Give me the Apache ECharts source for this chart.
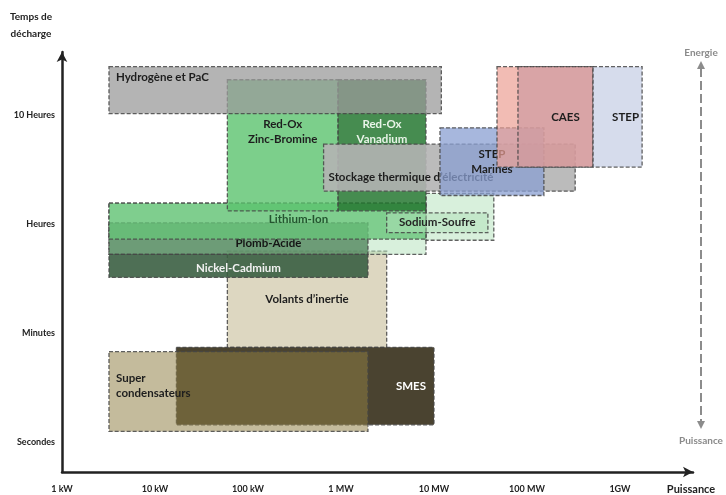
<!DOCTYPE html>
<html><head><meta charset="utf-8">
<script src="https://cdn.jsdelivr.net/npm/echarts@6/dist/echarts.min.js"></script>
<style>html,body{margin:0;padding:0;background:#fff}#c{width:726px;height:495px}</style>
</head><body><div id="c"></div>
<script>
// Axis tick labels
const xTickLabels = ['1 kW', '10 kW', '100 kW', '1 MW', '10 MW', '100 MW', '1GW'];
const yTickLabels = ['Secondes', 'Minutes', 'Heures', '10 Heures'];

// Technologies, in drawing order
const techNames = ['Volants', 'SMES', 'SuperCond', 'LiIonRange', 'SodiumRange', 'Plomb', 'Nickel', 'LiIon',
  'Sodium', 'Zinc', 'Vanadium', 'Hydrogene', 'Thermique', 'StepMarines', 'CaesRange', 'Caes', 'Step'];
const techLabels = ['Volants d\u2019inertie', 'SMES', 'Super\ncondensateurs', '', '', 'Plomb-Acide', 'Nickel-Cadmium',
  'Lithium-Ion', 'Sodium-Soufre', 'Red-Ox\nZinc-Bromine', 'Red-Ox\nVanadium', 'Hydrog\u00e8ne et PaC',
  'Stockage thermique d\u2019\u00e9lectricit\u00e9', 'STEP\nMarines', '', 'CAES', 'STEP'];
// Power range (kW)
const powerMin = [60, 17, 3.2, 3.2, 8200, 3.2, 3.2, 3.2, 3100, 60, 930, 3.2, 650, 11600, 47600, 80000, 513000];
const powerMax = [3100, 10000, 1950, 8200, 44000, 1950, 1950, 8200, 38000, 930, 8200, 12000, 330000, 152000, 513000, 513000, 1730000];
// Discharge time (0 = secondes, 1 = minutes, 2 = heures, 3 = 10 heures)
const timeMin = [0.87, 0.16, 0.10, 1.72, 1.85, 1.72, 1.51, 1.86, 1.92, 2.12, 2.12, 3.01, 2.30, 2.26, 2.52, 2.52, 2.52];
const timeMax = [1.75, 0.87, 0.83, 2.19, 2.28, 2.01, 1.72, 2.19, 2.10, 3.32, 3.32, 3.44, 2.73, 2.88, 3.44, 3.44, 3.44];

// Styles (not data)
const FONT = 'Lato, "Open Sans", sans-serif';
const styles = {
  Volants:     {fill: 'rgba(217,211,186,0.9)', text: '#1e1e1e', pos: 'center', dx: 0, dy: 0},
  SMES:        {fill: 'rgba(64,57,37,0.95)', text: '#ffffff', pos: 'right', dx: 8, dy: 0},
  SuperCond:   {fill: 'rgba(143,126,68,0.53)', text: '#1e1e1e', pos: 'left', dx: 7, dy: -6},
  LiIonRange:  {fill: 'rgba(177,225,185,0.5)'},
  SodiumRange: {fill: 'rgba(177,225,185,0.5)'},
  Plomb:       {fill: 'rgba(91,141,101,0.85)', text: '#151515', pos: 'center', dx: 30, dy: 5},
  Nickel:      {fill: 'rgba(59,95,66,0.9)', text: '#f2f2f2', pos: 'center', dx: 0, dy: 2},
  LiIon:       {fill: 'rgba(102,196,120,0.78)', text: '#24552f', pos: 'center', dx: 31, dy: -2},
  Sodium:      {fill: 'rgba(178,226,186,0.5)', text: '#262626', pos: 'center', dx: 0, dy: 0},
  Zinc:        {fill: 'rgba(91,195,110,0.8)', text: '#1e1e1e', pos: 'center', dx: 0, dy: -13},
  Vanadium:    {fill: 'rgba(38,120,49,0.85)', text: '#e8f4e8', pos: 'center', dx: 0, dy: -13},
  Hydrogene:   {fill: 'rgba(155,155,155,0.75)', text: '#1e1e1e', pos: 'left', dx: 7, dy: -13},
  Thermique:   {fill: 'rgba(180,180,180,0.9)', text: '#1e1e1e', pos: 'left', dx: 5, dy: 10},
  StepMarines: {fill: 'rgba(137,159,209,0.75)', text: '#1e1e1e', pos: 'center', dx: 0, dy: 0},
  CaesRange:   {fill: 'rgba(236,159,148,0.7)'},
  Caes:        {fill: 'rgba(206,154,160,0.7)', text: '#1e1e1e', pos: 'center', dx: 10, dy: 0},
  Step:        {fill: 'rgba(204,211,231,0.8)', text: '#1e1e1e', pos: 'center', dx: 8, dy: 0}
};

const seriesData = techNames.map((n, i) => [powerMin[i], powerMax[i], timeMin[i], timeMax[i]]);

const chart = echarts.init(document.getElementById('c'));
const axisColor = '#222';
chart.setOption({
  animation: false,
  grid: {left: 62, right: 33, top: 52, bottom: 23},
  xAxis: {
    type: 'log', logBase: 10, min: 1, max: 6.1e6,
    name: 'Puissance', nameLocation: 'end', nameGap: -2,
    nameTextStyle: {fontFamily: FONT, fontWeight: 'bold', fontSize: 11, color: axisColor,
      align: 'center', verticalAlign: 'top', padding: [12, 0, 0, 0]},
    axisLine: {show: true, onZero: false, lineStyle: {color: axisColor, width: 2.5},
      symbol: ['none', 'arrow'], symbolSize: [8, 10]},
    axisTick: {show: false}, splitLine: {show: false}, minorTick: {show: false},
    axisLabel: {
      margin: 13, fontFamily: FONT, fontSize: 9, fontWeight: 'bold', color: axisColor,
      showMaxLabel: false,
      formatter: v => {
        const l = Math.log10(v), k = Math.round(l);
        return (Math.abs(l - k) < 1e-6 && k >= 0 && k < xTickLabels.length) ? xTickLabels[k] : '';
      }
    }
  },
  yAxis: {
    type: 'value', min: -0.272, max: 3.574,
    name: 'Temps de\nd\u00e9charge', nameLocation: 'end', nameGap: 10,
    nameTextStyle: {fontFamily: FONT, fontWeight: 'bold', fontSize: 10, color: axisColor, lineHeight: 17,
      align: 'center', verticalAlign: 'bottom', padding: [0, 62, 0, 0]},
    axisLine: {show: true, onZero: false, lineStyle: {color: axisColor, width: 2.5},
      symbol: ['none', 'arrow'], symbolSize: [8, 10]},
    axisTick: {show: false}, splitLine: {show: false},
    axisLabel: {
      customValues: [0, 1, 2, 3], margin: 7,
      fontFamily: FONT, fontSize: 9, fontWeight: 'bold', color: axisColor,
      formatter: v => yTickLabels[Math.round(v)] || ''
    }
  },
  series: [{
    type: 'custom',
    encode: {x: [0, 1], y: [2, 3]},
    data: seriesData,
    renderItem: (params, api) => {
      const i = params.dataIndex;
      const st = styles[techNames[i]];
      const p0 = api.coord([api.value(0), api.value(3)]);
      const p1 = api.coord([api.value(1), api.value(2)]);
      const children = [{
        type: 'rect',
        shape: {x: p0[0], y: p0[1], width: p1[0] - p0[0], height: p1[1] - p0[1]},
        style: {fill: st.fill, stroke: 'rgba(70,70,70,0.85)', lineWidth: 1.3, lineDash: [4, 2]}
      }];
      const label = techLabels[i];
      if (label) {
        const cy = (p0[1] + p1[1]) / 2 + st.dy;
        let x, align;
        if (st.pos === 'left') { x = p0[0] + st.dx; align = 'left'; }
        else if (st.pos === 'right') { x = p1[0] - st.dx; align = 'right'; }
        else { x = (p0[0] + p1[0]) / 2 + st.dx; align = 'center'; }
        children.push({
          type: 'text',
          style: {text: label, x: x, y: cy, align: align, verticalAlign: 'middle',
            font: 'bold 11.5px ' + FONT, lineHeight: 15, fill: st.text}
        });
      }
      return {type: 'group', children: children};
    }
  }],
  graphic: [
    {type: 'text', style: {text: 'Energie', x: 701, y: 53, align: 'center', verticalAlign: 'middle',
      font: 'bold 10px ' + FONT, fill: '#8a8a8a'}},
    {type: 'text', style: {text: 'Puissance', x: 701, y: 441, align: 'center', verticalAlign: 'middle',
      font: 'bold 10px ' + FONT, fill: '#8a8a8a'}},
    {type: 'line', shape: {x1: 701, y1: 68, x2: 701, y2: 422},
      style: {stroke: '#8c8c8c', lineWidth: 2, lineDash: [9, 4]}},
    {type: 'polygon', shape: {points: [[701, 61], [697, 69], [705, 69]]}, style: {fill: '#8c8c8c'}},
    {type: 'polygon', shape: {points: [[701, 429], [697, 421], [705, 421]]}, style: {fill: '#8c8c8c'}}
  ]
});
</script>
</body></html>
